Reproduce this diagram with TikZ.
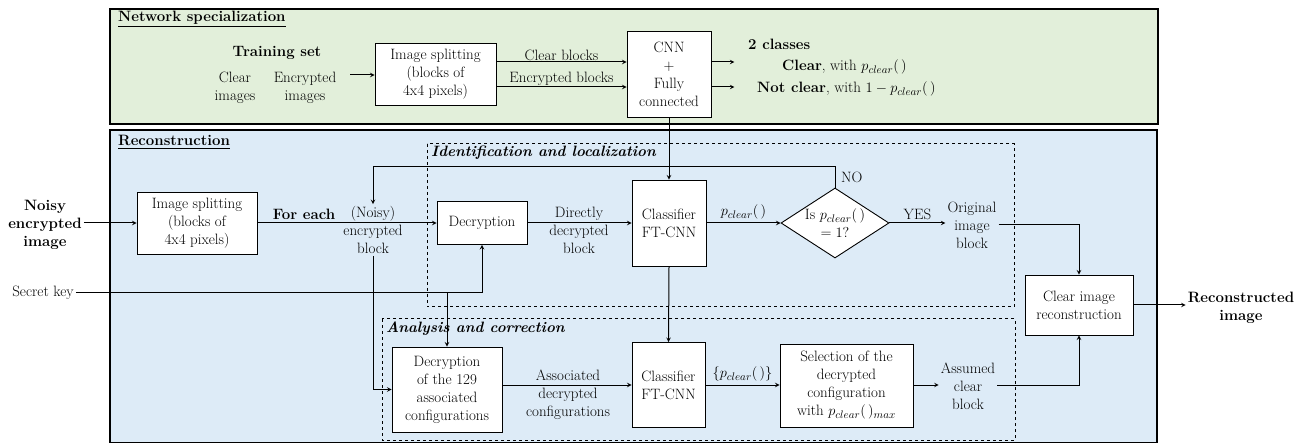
\documentclass[tikz,border=0pt]{standalone}
\usepackage{amsmath}
\usetikzlibrary{shapes.geometric}
\definecolor{specgreen}{RGB}{226,239,218}
\definecolor{recblue}{RGB}{221,235,247}
\begin{document}
\begin{tikzpicture}[x=1pt,y=-1pt,>=stealth,font=\fontsize{15}{18}\selectfont,
  block/.style = {draw, fill=white, line width=0.9pt, inner sep=0pt, align=center},
  txt/.style = {inner sep=2pt, align=center},
  decision/.style = {draw, fill=white, line width=0.9pt, diamond, inner sep=0pt, minimum width=108pt, minimum height=70pt},
  frame/.style = {draw, line width=2.4pt},
  zone/.style = {draw, dashed, line width=1pt},
  flow/.style = {->, line width=1pt},]
\useasboundingbox (0,0) rectangle (1298,443);
% panels
\draw[frame, fill=specgreen] (110,9) rectangle (1158,124);
\draw[frame, fill=recblue] (110,130) rectangle (1157,443);
\node[anchor=west, inner sep=0pt] (spec) at (118,19) {\underline{\textbf{Network specialization}}};
\node[anchor=west, inner sep=0pt] (recon) at (118,142) {\underline{\textbf{Reconstruction}}};
\draw[zone] (427,144) rectangle (1014,307);
\draw[zone] (382,319) rectangle (1015,440);
\node[anchor=west, inner sep=0pt] (ident) at (431,153) {\textbf{\textit{Identification and localization}}};
\node[anchor=west, inner sep=0pt] (ana) at (386,329) {\textbf{\textit{Analysis and correction}}};

% training part
\node[txt] (train) at (277,53) {\textbf{Training set}};
\node[txt] (clrimg) at (235,88) {Clear\\images};
\node[txt] (encimg) at (305,88) {Encrypted\\images};
\coordinate (trin) at (350,75);
\node[block, minimum width=121pt, minimum height=62pt] (split1) at (435.5,74) {Image splitting\\(blocks of\\4x4 pixels)};
\node[block, minimum width=84pt, minimum height=86pt] (cnn) at (669,74) {CNN\\+\\Fully\\connected};
\node[anchor=west, inner sep=0pt] (cls) at (748,44) {\textbf{2 classes}};
\node[anchor=west, inner sep=0pt] (clr) at (782,67) {\textbf{Clear}, with $p_{clear}(\,)$};
\node[anchor=west, inner sep=0pt] (nclr) at (757,89) {\textbf{Not clear}, with $1-p_{clear}(\,)$};

\draw[flow] (trin) -- (split1.west |- trin);
\draw[flow] ([yshift=12pt]split1.east) -- node[above, inner sep=1pt]{Clear blocks} ([yshift=12pt]cnn.west);
\draw[flow] ([yshift=-13pt]split1.east) -- node[above, inner sep=1pt]{Encrypted blocks} ([yshift=-13pt]cnn.west);
\draw[flow] ([yshift=12pt]cnn.east) -- ++(23,0);
\draw[flow] ([yshift=-13pt]cnn.east) -- ++(23,0);

% reconstruction part
\node[txt] (noisy) at (45,225) {\textbf{Noisy}\\\textbf{encrypted}\\\textbf{image}};
\node[txt] (key) at (43,293) {Secret key};
\node[block, minimum width=120pt, minimum height=62pt] (split2) at (197,223) {Image splitting\\(blocks of\\4x4 pixels)};
\node[txt] (blk) at (373,230) {(Noisy)\\encrypted\\block};
\node[block, minimum width=90pt, minimum height=43pt] (dec) at (482,223) {Decryption};
\node[txt] (ddb) at (579,230) {Directly\\decrypted\\block};
\node[block, minimum width=74pt, minimum height=86pt] (cls1) at (669,223) {Classifier\\FT-CNN};
\node[decision] (dia) at (835,223) {};
\node[txt] (diatxt) at (dia) {Is $p_{clear}(\,)$\\$=1?$};
\node[txt] (orig) at (972,225) {Original\\image\\block};
\node[block, minimum width=108pt, minimum height=60pt] (rec) at (1079,305) {Clear image\\reconstruction};
\node[txt] (out) at (1241,308) {\textbf{Reconstructed}\\\textbf{image}};
\node[block, minimum width=110pt, minimum height=85pt] (dec2) at (447,389.5) {Decryption\\of the 129\\associated\\configurations};
\node[txt] (adc) at (568,395) {Associated\\decrypted\\configurations};
\node[block, minimum width=73pt, minimum height=85pt] (cls2) at (668.5,385) {Classifier\\FT-CNN};
\node[block, minimum width=133pt, minimum height=83pt] (sel) at (846.5,385.5) {Selection of the\\decrypted\\configuration\\with $p_{clear}(\,)_{max}$};
\node[txt] (asm) at (968,386) {Assumed\\clear\\block};

\draw[flow] (noisy.east |- split2.west) -- (split2.west);
\draw[flow] (split2.east) -- node[pos=0.26, above, inner sep=3pt]{\textbf{For each}} (dec.west);
\draw[flow] (dia.north) -- ++(0,-21) -| (blk.north);
\node[anchor=west, inner sep=0pt] (no) at (841,177) {NO};
\draw[flow] (key.east) -| (dec.south);
\draw[flow] (dec2.north |- key) -- (dec2.north);
\draw[flow] (blk.south) |- (dec2.west);
\draw[flow] (dec.east) -- (cls1.west);
\draw[flow] (cnn.south) -- (cls1.north);
\draw[flow] (cls1.east) -- node[above, inner sep=3pt]{$p_{clear}(\,)$} (dia.west);
\draw[flow] (dia.east) -- node[above, inner sep=3pt]{YES} (dia.east -| orig.west);
\draw[flow] (orig.east) -| (rec.north);
\draw[flow] (rec.east) -- (rec.east -| out.west);
\draw[flow] (cls1.south) -- (cls2.north);
\draw[flow] (dec2.east |- cls2) -- (cls2.west);
\draw[flow] (cls2.east) -- node[above, inner sep=3pt]{$\{p_{clear}(\,)\}$} (cls2.east -| sel.west);
\draw[flow] (sel.east |- cls2) -- (asm.west |- cls2);
\draw[flow] (asm.east |- cls2) -| (rec.south);
\end{tikzpicture}
\end{document}
